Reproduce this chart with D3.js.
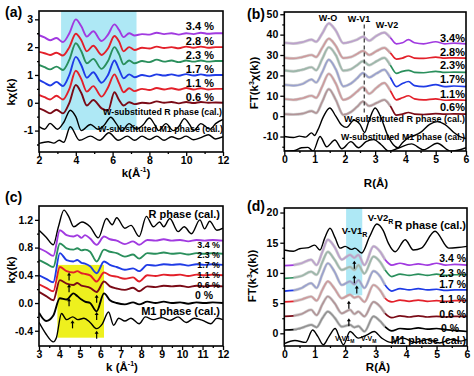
<!DOCTYPE html>
<html>
<head>
<meta charset="utf-8">
<script src="https://cdn.jsdelivr.net/npm/d3@7"></script>
<style>
  body { margin: 0; background: #fff; }
  svg text { font-family: Arial, "Liberation Sans", sans-serif; font-weight: bold; fill: #000; }
</style>
</head>
<body>
<svg id="chart" width="474" height="376"></svg>
<script>
// ---------- panel (a): k-space, W-doped samples ----------
const kA = [2, 2.3, 2.6, 2.95, 3.3, 3.65, 4.0, 4.3, 4.6, 4.95, 5.4, 5.75, 6.1, 6.35, 6.6, 6.9, 7.2, 7.6, 8.0, 8.4, 8.8, 9.2, 9.6, 10.0, 10.4, 10.8, 11.2, 11.6, 12];
const a34 = [2.43, 2.35, 2.25, 2.33, 2.18, 2.5, 3.0, 2.75, 2.38, 2.57, 2.22, 2.45, 2.82, 2.62, 2.36, 2.5, 2.42, 2.47, 2.45, 2.52, 2.47, 2.5, 2.45, 2.5, 2.47, 2.52, 2.48, 2.5, 2.5];
const a28 = [1.83, 1.78, 1.72, 1.8, 1.7, 2.0, 2.48, 2.25, 1.85, 2.05, 1.72, 1.95, 2.4, 2.2, 1.85, 2.0, 1.9, 1.98, 1.95, 2.02, 1.97, 2.0, 1.96, 2.02, 1.98, 2.02, 1.98, 2.0, 2.0];
const a23 = [1.36, 1.28, 1.2, 1.3, 1.18, 1.55, 2.14, 1.85, 1.42, 1.58, 1.22, 1.5, 2.0, 1.75, 1.38, 1.52, 1.42, 1.5, 1.46, 1.55, 1.48, 1.52, 1.46, 1.52, 1.48, 1.52, 1.48, 1.5, 1.5];
const a17 = [0.82, 0.72, 0.62, 0.75, 0.6, 1.0, 1.65, 1.35, 0.9, 1.1, 0.72, 1.0, 1.52, 1.2, 0.88, 1.02, 0.92, 1.0, 0.95, 1.02, 0.98, 1.02, 0.97, 1.03, 0.98, 1.02, 0.98, 1.0, 1.0];
const a11 = [0.28, 0.2, 0.12, 0.25, 0.12, 0.5, 1.15, 0.85, 0.4, 0.6, 0.22, 0.55, 1.02, 0.7, 0.38, 0.52, 0.42, 0.5, 0.46, 0.53, 0.48, 0.52, 0.47, 0.53, 0.48, 0.52, 0.48, 0.5, 0.5];
const a06 = [-0.2, -0.28, -0.38, -0.25, -0.38, 0.0, 0.64, 0.35, -0.1, 0.1, -0.2, -0.28, 0.38, 0.1, -0.1, 0.02, -0.05, 0.0, -0.02, 0.05, 0.0, 0.03, -0.02, 0.03, -0.01, 0.03, 0.0, 0.01, 0.0];
const kARcal = [2, 2.3, 2.6, 3.0, 3.35, 3.7, 4.0, 4.3, 4.8, 5.2, 5.55, 5.9, 6.2, 6.5, 6.9, 7.3, 7.65, 8.0, 8.3, 8.5, 8.9, 9.3, 9.6, 9.9, 10.2, 10.4, 10.8, 11.3, 11.6, 12];
const aRcal = [-0.86, -0.95, -0.74, -0.95, -0.7, -0.27, -0.5, -1.0, -0.78, -0.95, -0.8, -0.52, -0.75, -1.0, -0.75, -0.95, -0.8, -0.55, -0.8, -1.0, -0.75, -1.0, -0.85, -0.57, -0.8, -1.0, -0.75, -0.95, -0.75, -0.6];
const kAM1cal = [2, 2.5, 2.8, 3.1, 3.35, 3.7, 4.2, 4.8, 5.3, 5.8, 6.3, 6.8, 7.2, 7.6, 8.0, 8.4, 8.8, 9.2, 9.6, 10.0, 10.4, 10.8, 11.2, 11.6, 12];
const aM1cal = [-1.46, -1.4, -1.45, -1.35, -1.42, -0.86, -1.35, -1.2, -1.35, -1.08, -1.35, -1.2, -1.35, -1.2, -1.32, -1.2, -1.35, -1.22, -1.3, -1.2, -1.33, -1.25, -1.15, -1.3, -1.22];

// ---------- panel (b): R-space, W-doped samples ----------
const rB = [0, 0.3, 0.6, 0.9, 1.05, 1.25, 1.47, 1.7, 1.95, 2.2, 2.4, 2.6, 2.8, 3.05, 3.3, 3.5, 3.7, 3.9, 4.1, 4.3, 4.6, 5.0, 5.3, 5.6, 6.0];
const b34 = [36, 35.6, 36.3, 37.5, 36.5, 40.5, 45.5, 42, 35.8, 36.5, 37.5, 39, 37, 39.5, 41, 38.5, 35.5, 36, 37.5, 36, 35.5, 36.5, 35.5, 35.8, 35.5];
const b28 = [28.6, 28.3, 29, 30, 29, 33.5, 38, 34.5, 28.5, 29, 30.5, 32, 30, 32, 33.5, 31, 28, 28.5, 29.5, 28.5, 28.3, 29, 28.5, 28.6, 28.5];
const b23 = [22.5, 22, 22.8, 24, 22.5, 28, 33.8, 30, 22.3, 23, 25, 27, 25, 27, 28.6, 25, 21, 22, 22.5, 21.5, 21.3, 22, 21.5, 21.6, 21.5];
const b17 = [15.4, 15, 15.8, 18, 16.5, 21.5, 27.7, 23, 14.6, 16, 18.5, 21.2, 19, 21, 22.8, 19, 14.5, 16, 17, 15, 14.5, 15.5, 14.5, 14.8, 14.5];
const b11 = [8.4, 8, 8.8, 10, 9, 14.5, 20.8, 16, 8, 9.5, 12, 14.3, 11, 14, 16.3, 12.5, 8, 9, 10, 8.5, 8, 8.5, 7.8, 8, 7.8];
const b06 = [1, 0.8, 1.2, 2.5, 1.5, 7, 13.3, 8, 0.6, 2, 4.5, 7.2, 5, 6.5, 8, 5, 0.5, 1, 1.8, 1, 0.8, 1.2, 1, 1.1, 1];
const rBRcal = [0, 0.3, 0.5, 0.7, 0.9, 1.0, 1.1, 1.3, 1.5, 1.7, 1.9, 2.05, 2.3, 2.5, 2.65, 2.8, 3.0, 3.2, 3.4, 3.6, 3.75, 3.9, 4.1, 4.3, 4.5, 4.8, 5.05, 5.3, 5.6, 5.8, 6];
const bRcal = [-10, -10.5, -9.8, -10.3, -8.2, -9.5, -7, 0, 4, 0, -4.5, -5.5, -2, -4, -8, -2, 4, -1, -9, -14, -15.5, -13, -10.5, -9.5, -8, -4, -2.7, -4, -8, -10, -11];
const rBM1cal = [0, 0.3, 0.57, 0.78, 0.95, 1.18, 1.4, 1.67, 1.9, 2.2, 2.45, 2.7, 2.95, 3.2, 3.45, 3.8, 4.2, 4.6, 5.05, 5.5, 5.8, 6];
const bM1cal = [-17.2, -17, -15.5, -15.3, -17.2, -10, -15, -11.7, -16, -12.5, -15.5, -12.5, -11.5, -14, -17.2, -15.5, -13.6, -16.5, -13.3, -17.2, -16.5, -15.5];

// ---------- panel (c): k-space, V K-edge ----------
const kC = [3, 3.35, 3.7, 4.02, 4.35, 4.68, 4.87, 5.08, 5.25, 5.5, 5.82, 6.18, 6.47, 6.8, 7.2, 7.6, 7.9, 8.3, 8.7, 9.1, 9.5, 9.9, 10.3, 10.7, 11.1, 11.5, 12];
const c34 = [0.79, 0.74, 0.68, 1.05, 0.98, 0.96, 0.98, 0.94, 0.98, 0.93, 0.84, 0.96, 0.92, 0.9, 0.85, 0.89, 0.84, 0.91, 0.9, 0.92, 0.9, 0.91, 0.89, 0.91, 0.9, 0.91, 0.9];
const c23 = [0.62, 0.57, 0.52, 0.86, 0.79, 0.77, 0.79, 0.76, 0.77, 0.74, 0.6, 0.77, 0.74, 0.72, 0.67, 0.7, 0.64, 0.72, 0.71, 0.73, 0.71, 0.72, 0.7, 0.72, 0.71, 0.72, 0.71];
const c17 = [0.4, 0.35, 0.3, 0.72, 0.62, 0.6, 0.62, 0.58, 0.57, 0.53, 0.43, 0.6, 0.55, 0.52, 0.48, 0.5, 0.46, 0.55, 0.54, 0.56, 0.55, 0.56, 0.54, 0.56, 0.55, 0.56, 0.55];
const c11 = [0.27, 0.22, 0.17, 0.52, 0.46, 0.44, 0.46, 0.43, 0.42, 0.4, 0.31, 0.44, 0.4, 0.38, 0.35, 0.37, 0.31, 0.4, 0.39, 0.41, 0.4, 0.41, 0.39, 0.41, 0.4, 0.41, 0.4];
const c06 = [0.16, 0.1, 0.04, 0.33, 0.28, 0.26, 0.29, 0.25, 0.24, 0.22, 0.16, 0.31, 0.24, 0.21, 0.19, 0.22, 0.17, 0.24, 0.23, 0.25, 0.24, 0.25, 0.23, 0.25, 0.24, 0.25, 0.24];
const c00 = [-0.14, -0.26, -0.18, 0.07, 0.05, 0.14, 0.1, 0.05, 0.02, 0.0, -0.12, 0.14, 0.04, 0.0, -0.02, 0.01, -0.02, 0.02, 0.0, 0.02, 0.0, 0.01, -0.01, 0.01, 0.0, 0.01, 0.0];
const kCRcal = [3, 3.35, 3.7, 3.95, 4.22, 4.45, 4.7, 5.1, 5.5, 5.9, 6.3, 6.58, 6.8, 7.2, 7.5, 7.9, 8.25, 8.6, 8.9, 9.1, 9.4, 9.8, 10.1, 10.46, 10.87, 11.1, 11.35, 11.7, 12];
const cRcal = [1.05, 0.95, 0.84, 1.1, 1.34, 1.25, 1.1, 1.17, 1.1, 0.94, 1.22, 1.13, 1.23, 1.08, 1.12, 0.96, 1.25, 1.1, 1.17, 1.1, 1.22, 1.03, 1.1, 1.0, 1.2, 1.07, 1.18, 1.05, 1.08];
const kCM1cal = [3, 3.35, 3.7, 3.85, 4.1, 4.35, 4.65, 4.9, 5.2, 5.5, 5.82, 6.1, 6.4, 6.65, 6.9, 7.2, 7.5, 7.9, 8.2, 8.6, 9.0, 9.4, 9.8, 10.2, 10.6, 11.0, 11.4, 11.7, 12];
const cM1cal = [-0.28, -0.45, -0.56, -0.5, -0.15, -0.24, -0.2, -0.24, -0.22, -0.28, -0.37, -0.3, -0.13, -0.32, -0.22, -0.26, -0.22, -0.3, -0.2, -0.24, -0.21, -0.25, -0.2, -0.28, -0.22, -0.25, -0.3, -0.22, -0.24];
const arrowsC = [[4.47, 0.44], [4.47, 0.27], [4.47, 0.07], [4.64, -0.25], [5.82, 0.12], [5.82, -0.13], [5.82, -0.4]];

// ---------- panel (d): R-space, V K-edge ----------
const rD = [0, 0.3, 0.57, 0.88, 1.06, 1.25, 1.43, 1.65, 1.89, 2.16, 2.3, 2.43, 2.63, 2.93, 3.15, 3.31, 3.53, 3.8, 4.1, 4.4, 4.7, 5.0, 5.3, 5.6, 6.0];
const d34 = [11.2, 11.3, 11.6, 12.2, 11.3, 13.5, 15.5, 14.3, 12.2, 13, 12.5, 13, 11.3, 14.4, 13.5, 12.2, 11.3, 11.6, 11.3, 11.5, 11.3, 11.6, 11.3, 11.4, 11.3];
const d23 = [9.1, 9.2, 9.5, 10.2, 9.7, 11.8, 13.5, 12.2, 10.5, 11, 10.5, 11.3, 9.9, 12.7, 11.8, 10.5, 9.4, 9.8, 9.6, 9.8, 9.6, 9.8, 9.6, 9.7, 9.7];
const d17 = [7.0, 7.1, 7.5, 8.3, 7.5, 9.8, 11.6, 10.2, 8, 8.6, 8.1, 8.8, 7.5, 10.3, 9.4, 8, 7.0, 7.4, 7.2, 7.4, 7.2, 7.3, 7.1, 7.2, 7.2];
const d11 = [5.2, 5.3, 5.6, 6.1, 5.4, 7.2, 8.6, 7.4, 5.8, 6.4, 5.9, 6.1, 5.2, 8.0, 7.1, 5.8, 5.2, 5.5, 5.3, 5.5, 5.3, 5.4, 5.3, 5.4, 5.4];
const d06 = [2.8, 2.9, 3.2, 3.9, 3.0, 4.8, 6.1, 5.0, 3.3, 3.9, 3.2, 3.6, 2.8, 5.2, 4.4, 3.3, 2.6, 2.9, 2.7, 2.9, 2.7, 2.8, 2.7, 2.8, 2.8];
const d00 = [0.55, 0.6, 0.9, 1.4, 1.0, 2.5, 3.6, 2.6, 1.1, 1.4, 1.0, 1.2, 0.3, 2.8, 2.0, 1.1, 0.4, 0.8, 0.7, 0.9, 0.7, 0.8, 0.6, 0.5, 0.3];
const rDRcal = [0, 0.3, 0.5, 0.8, 1.0, 1.17, 1.33, 1.5, 1.67, 1.83, 2.0, 2.2, 2.32, 2.54, 2.8, 3.04, 3.25, 3.42, 3.64, 3.97, 4.24, 4.5, 4.95, 5.4, 5.7, 6.0];
const dRcal = [13.8, 13.6, 14.0, 14.2, 14.6, 13.8, 15.8, 17.4, 15.8, 14.1, 14.4, 13.9, 14.1, 13.3, 16.0, 18.1, 17.0, 14.9, 13.5, 15.5, 13.8, 14.1, 16.9, 14.1, 14.2, 14.4];
const rDM1cal = [0, 0.35, 0.7, 0.93, 1.1, 1.28, 1.47, 1.67, 1.8, 1.94, 2.16, 2.43, 2.7, 2.95, 3.2, 3.5, 3.9, 4.3, 4.7, 5.1, 5.5, 5.8, 6.0];
const dM1cal = [-1.7, -1.2, -1.5, 0.55, -0.5, -1.9, -0.5, 0.8, -0.5, -1.9, 0.3, -0.8, -0.3, 0.3, -0.8, -1.5, -0.8, -1.5, -1.0, -1.6, -1.0, -1.3, -1.0];
const arrowsD = [[2.3, 12.0], [2.3, 9.6], [2.38, 7.9], [2.12, 5.4], [2.12, 2.5]];

const purple = '#a13ae0', red = '#e3202a', green = '#2a8f5c', blue = '#1f3be6', maroon = '#7a0a16';

const svg = d3.select('#chart');
const zip = (xs, ys) => xs.map((v, i) => [v, ys[i]]);
const fmtInt = d => String(d);
const fmt1 = d => d.toFixed(1);

function setupPanel(p) {
  const x = d3.scaleLinear().domain(p.xd).range([p.left, p.right]);
  const y = d3.scaleLinear().domain(p.yd).range([p.bottom, p.top]);
  const g = svg.append('g');
  svg.append('clipPath').attr('id', 'clip-' + p.id).append('rect')
    .attr('x', p.left).attr('y', p.top)
    .attr('width', p.right - p.left).attr('height', p.bottom - p.top);
  const plot = g.append('g').attr('clip-path', `url(#clip-${p.id})`);
  const line = d3.line().x(d => x(d[0])).y(d => y(d[1])).curve(d3.curveMonotoneX);
  return { x, y, g, plot, line };
}

function drawAxes(P, p) {
  const { x, y, g } = P;
  const ax = [
    g.append('g').attr('transform', `translate(0,${p.bottom})`)
      .call(d3.axisBottom(x).tickValues(p.xt).tickSize(4).tickPadding(1).tickFormat(p.xf)),
    g.append('g').attr('transform', `translate(0,${p.bottom})`)
      .call(d3.axisBottom(x).tickValues(p.xm).tickSize(2).tickFormat('')),
    g.append('g').attr('transform', `translate(${p.left},0)`)
      .call(d3.axisLeft(y).tickValues(p.yt).tickSize(4).tickPadding(2).tickFormat(p.yf)),
    g.append('g').attr('transform', `translate(${p.left},0)`)
      .call(d3.axisLeft(y).tickValues(p.ym).tickSize(2).tickFormat(''))
  ];
  ax.forEach(a => {
    a.select('.domain').remove();
    a.selectAll('line').attr('stroke', '#000').attr('stroke-width', 1.3);
    a.selectAll('text').attr('font-size', 10.5).attr('font-weight', 'bold')
      .attr('font-family', 'Arial, "Liberation Sans", sans-serif').attr('fill', '#000');
  });
  g.append('rect').attr('x', p.left).attr('y', p.top)
    .attr('width', p.right - p.left).attr('height', p.bottom - p.top)
    .attr('fill', 'none').attr('stroke', '#000').attr('stroke-width', 1.6);
}

function drawCurves(P, xs, series, width) {
  series.forEach(s => {
    P.plot.append('path').datum(zip(s.x || xs, s.y))
      .attr('d', P.line).attr('fill', 'none')
      .attr('stroke', s.color).attr('stroke-width', s.w || width)
      .attr('stroke-linejoin', 'round');
  });
}

// gray fitted curves drawn over the data inside the fit window
function drawFits(P, xs, series, lo, hi) {
  series.forEach(s => {
    const pts = zip(xs, s.y).filter(d => d[0] >= lo && d[0] <= hi);
    P.plot.append('path').datum(pts).attr('d', P.line).attr('fill', 'none')
      .attr('stroke', '#c4c4c4').attr('stroke-width', 3).attr('opacity', 0.75);
  });
}

function label(txt, x, y, size, anchor, len) {
  const t = svg.append('text').attr('x', x).attr('y', y)
    .attr('font-size', size).attr('text-anchor', anchor || 'end').text(txt);
  if (len) t.attr('textLength', len).attr('lengthAdjust', 'spacingAndGlyphs');
  return t;
}

function arrow(P, pt) {
  const px = P.x(pt[0]), py = P.y(pt[1]);
  P.g.append('line').attr('x1', px).attr('x2', px).attr('y1', py + 2).attr('y2', py + 8)
    .attr('stroke', '#000').attr('stroke-width', 1.2);
  P.g.append('path').attr('d', `M${px - 2},${py + 3}L${px},${py}L${px + 2},${py + 3}Z`).attr('fill', '#000');
}

function yTitle(parts, cx, cy) {
  const t = svg.append('text').attr('transform', `translate(${cx},${cy}) rotate(-90)`)
    .attr('text-anchor', 'middle').attr('font-size', 11.5);
  parts.forEach(([s, sup]) => {
    const ts = t.append('tspan').text(s);
    if (sup) ts.attr('font-size', 7).attr('dy', -4);
    else if (sup === false) ts.attr('dy', 4);
  });
}

// ===== panel (a) =====
const pa = { id: 'a', left: 39, right: 223, top: 11, bottom: 152, xd: [2, 12], yd: [-1.77, 3.3],
  xt: [2, 4, 6, 8, 10, 12], xm: [3, 5, 7, 9, 11], yt: [-1, 0, 1, 2, 3], ym: [-1.5, -0.5, 0.5, 1.5, 2.5], xf: fmtInt, yf: fmtInt };
const A = setupPanel(pa);
A.plot.append('rect').attr('x', A.x(3.2)).attr('y', A.y(3.3))
  .attr('width', A.x(7.3) - A.x(3.2)).attr('height', A.y(-0.98) - A.y(3.3)).attr('fill', '#aee8f5');
drawCurves(A, kA, [
  { y: aRcal, x: kARcal, color: '#000', w: 1.4 }, { y: aM1cal, x: kAM1cal, color: '#000', w: 1.4 },
  { y: a06, color: maroon }, { y: a11, color: red }, { y: a17, color: blue },
  { y: a23, color: green }, { y: a28, color: red }, { y: a34, color: purple }
], 1.9);
drawAxes(A, pa);
[['3.4 %', 30], ['2.8 %', 45], ['2.3 %', 58.7], ['1.7 %', 72.7], ['1.1 %', 86.7], ['0.6 %', 101]]
  .forEach(([t, yy]) => label(t, 214, yy, 11));
label('W-substituted R phase (cal.)', 222, 114.5, 9.5, 'end', 119);
label('W-substituted M1 phase (cal.)', 223, 131.5, 9.5, 'end', 125);
label('(a)', 5, 17, 14, 'start');
yTitle([['kχ(k)']], 15, 92);
const xa = label('k(Å', 136, 177, 11.5, 'middle');
xa.append('tspan').attr('font-size', 7).attr('dy', -5).text('-1');
xa.append('tspan').attr('dy', 5).text(')');

// ===== panel (b) =====
const pb = { id: 'b', left: 284.3, right: 466, top: 12, bottom: 151, xd: [0, 6], yd: [-17.1, 51.1],
  xt: [0, 1, 2, 3, 4, 5, 6], xm: [0.5, 1.5, 2.5, 3.5, 4.5, 5.5], yt: [-10, 0, 10, 20, 30, 40, 50], ym: [-15, -5, 5, 15, 25, 35, 45], xf: fmtInt, yf: fmtInt };
const B = setupPanel(pb);
const bSeries = [
  { y: b06, color: maroon }, { y: b11, color: red }, { y: b17, color: blue },
  { y: b23, color: green }, { y: b28, color: red }, { y: b34, color: purple }
];
drawCurves(B, rB, [{ y: bRcal, x: rBRcal, color: '#000', w: 1.4 }, { y: bM1cal, x: rBM1cal, color: '#000', w: 1.4 }].concat(bSeries), 1.7);
drawFits(B, rB, bSeries, 0, 3.6);
B.g.append('line').attr('x1', B.x(2.64)).attr('x2', B.x(2.64)).attr('y1', B.y(45)).attr('y2', B.y(0.5))
  .attr('stroke', '#333').attr('stroke-width', 1.2).attr('stroke-dasharray', '4,3');
drawAxes(B, pb);
[['3.4%', 41.7], ['2.8%', 55.7], ['2.3%', 69.3], ['1.7%', 83.3], ['1.1%', 97.7], ['0.6%', 110.7]]
  .forEach(([t, yy]) => label(t, 465, yy, 11));
label('W-substituted R phase (cal.)', 465, 121.5, 9.5, 'end', 121);
label('W-substituted M1 phase (cal.)', 465, 140, 9.5, 'end', 124);
label('W-O', 328, 21, 9, 'middle');
label('W-V1', 359, 21.5, 9, 'middle');
label('W-V2', 387, 27.5, 9, 'middle');
label('(b)', 247, 19, 14, 'start');
yTitle([['FT(k'], ['3', true], ['χ(k))', false]], 258, 83);
label('R(Å)', 376, 187, 11.5, 'middle');

// ===== panel (c) =====
const pc = { id: 'c', left: 39, right: 223, top: 206, bottom: 346, xd: [3, 12], yd: [-0.62, 1.4],
  xt: [3, 4, 5, 6, 7, 8, 9, 10, 11, 12], xm: [3.5, 4.5, 5.5, 6.5, 7.5, 8.5, 9.5, 10.5, 11.5], yt: [-0.4, 0, 0.4, 0.8, 1.2], ym: [-0.2, 0.2, 0.6, 1.0], xf: fmtInt, yf: fmt1 };
const C = setupPanel(pc);
C.plot.append('rect').attr('x', C.x(3.9)).attr('y', C.y(0.55))
  .attr('width', C.x(6.18) - C.x(3.9)).attr('height', C.y(-0.5) - C.y(0.55)).attr('fill', '#eef01e');
drawCurves(C, kC, [
  { y: cRcal, x: kCRcal, color: '#000', w: 1.4 }, { y: cM1cal, x: kCM1cal, color: '#000', w: 1.4 },
  { y: c00, color: '#000' }, { y: c06, color: maroon }, { y: c11, color: red },
  { y: c17, color: blue }, { y: c23, color: green }, { y: c34, color: purple }
], 1.9);
arrowsC.forEach(a => arrow(C, a));
drawAxes(C, pc);
label('R phase (cal.)', 220, 217.5, 11);
[['3.4 %', 247.5], ['2.3 %', 257.6], ['1.7 %', 267.7], ['1.1 %', 277.8], ['0.6 %', 287.9]]
  .forEach(([t, yy]) => label(t, 220, yy, 8.9));
label('0 %', 213, 299, 10.5);
label('M1 phase (cal.)', 220, 315, 11);
label('(c)', 5, 202, 14, 'start');
yTitle([['kχ(k)']], 15, 270);
const xc = label('k (Å', 122, 371, 11.5, 'middle');
xc.append('tspan').attr('font-size', 7).attr('dy', -5).text('-1');
xc.append('tspan').attr('dy', 5).text(')');

// ===== panel (d) =====
const pd = { id: 'd', left: 284.3, right: 467, top: 208, bottom: 346, xd: [0, 6], yd: [-2.1, 20.75],
  xt: [0, 1, 2, 3, 4, 5, 6], xm: [0.5, 1.5, 2.5, 3.5, 4.5, 5.5], yt: [0, 5, 10, 15, 20], ym: [2.5, 7.5, 12.5, 17.5], xf: fmtInt, yf: fmtInt };
const D = setupPanel(pd);
D.plot.append('rect').attr('x', D.x(2.03)).attr('y', D.y(20.75))
  .attr('width', D.x(2.56) - D.x(2.03)).attr('height', D.y(6.3) - D.y(20.75)).attr('fill', '#aee8f5');
const dSeries = [
  { y: d00, color: '#000' }, { y: d06, color: maroon }, { y: d11, color: red },
  { y: d17, color: blue }, { y: d23, color: green }, { y: d34, color: purple }
];
drawCurves(D, rD, [{ y: dRcal, x: rDRcal, color: '#000', w: 1.4 }, { y: dM1cal, x: rDM1cal, color: '#000', w: 1.4 }].concat(dSeries), 1.7);
drawFits(D, rD, dSeries, 0.2, 3.5);
arrowsD.forEach(a => arrow(D, a));
drawAxes(D, pd);
label('R phase (cal.)', 466, 229, 11);
[['3.4 %', 261.7], ['2.3 %', 277.2], ['1.7 %', 287.7], ['1.1 %', 303.3], ['0.6 %', 317.7]]
  .forEach(([t, yy]) => label(t, 466, yy, 10.5));
label('0 %', 459, 332, 10.5);
label('M1 phase (cal.)', 466, 344, 10.5);
const v2 = label('V-V2', 367.7, 221, 9.5, 'start');
v2.append('tspan').attr('font-size', 7).attr('dy', 3).text('R');
const v1 = label('V-V1', 341.7, 234, 9.5, 'start');
v1.append('tspan').attr('font-size', 7).attr('dy', 3).text('R');
const m1 = label('V-V1', 335, 341, 7, 'start');
m1.append('tspan').attr('font-size', 5).attr('dy', 2).text('M');
const m2 = label('V-V', 361, 341, 7, 'start');
m2.append('tspan').attr('font-size', 5).attr('dy', 2).text('M');
label('(d)', 247, 211, 14, 'start');
yTitle([['FT(k'], ['3', true], ['χ(k))', false]], 256, 276);
label('R(Å)', 378, 371, 11.5, 'middle');
</script>
</body>
</html>
